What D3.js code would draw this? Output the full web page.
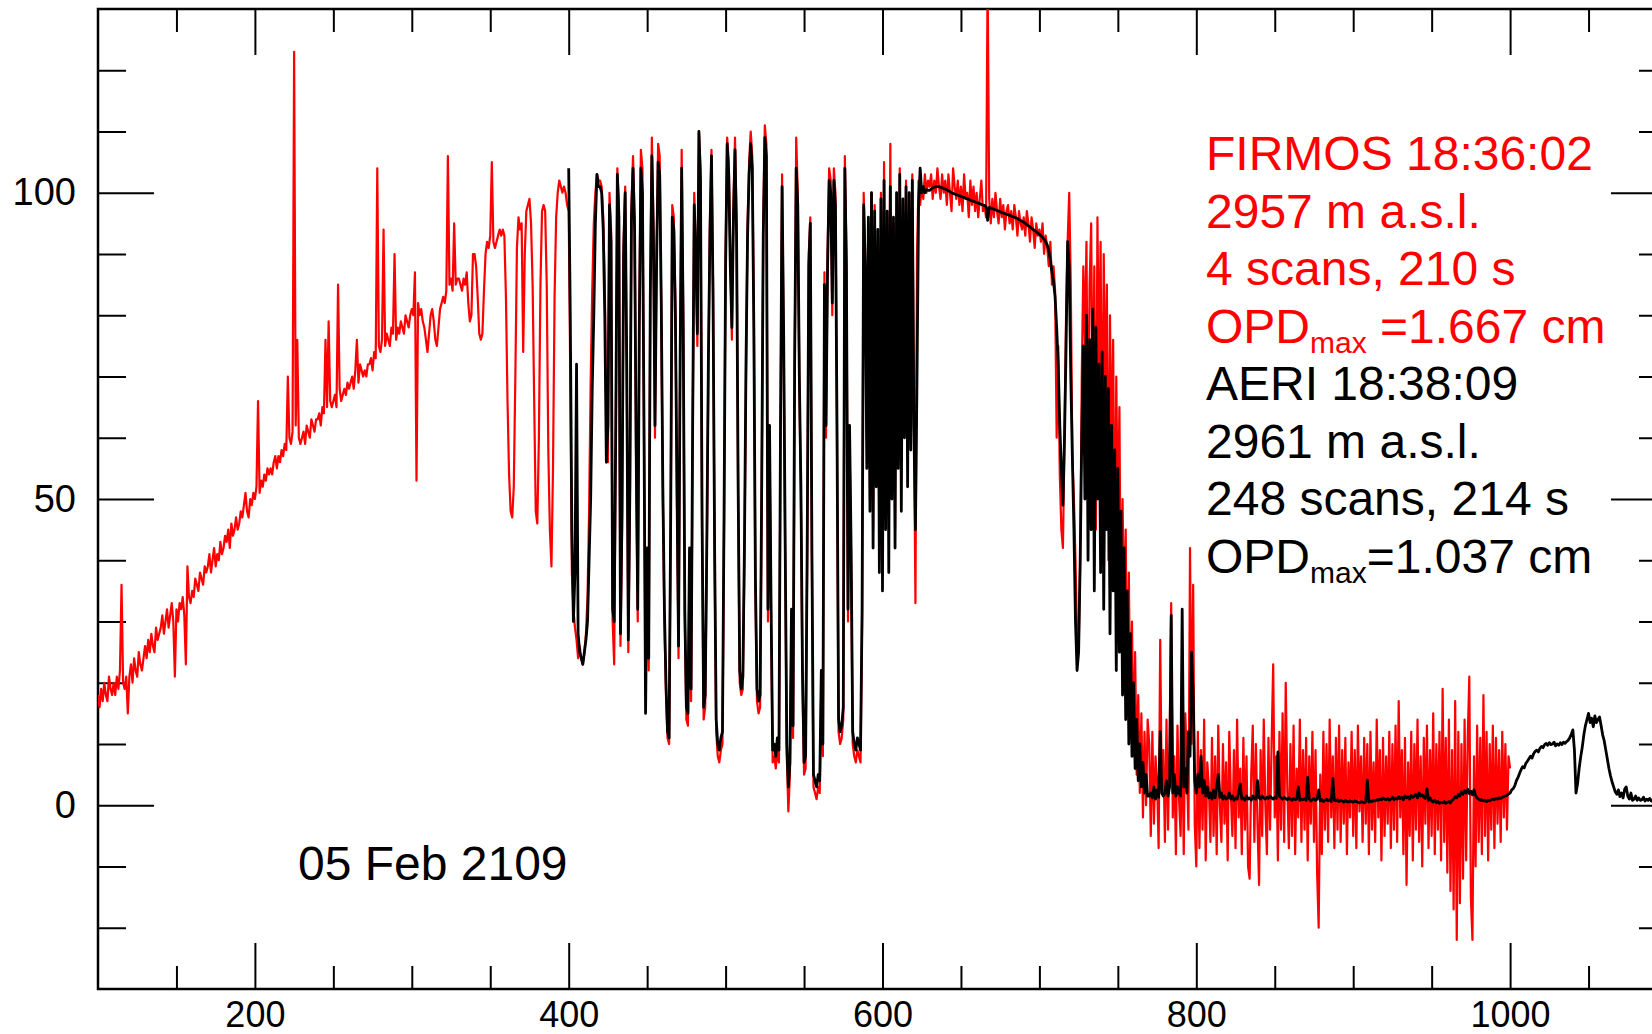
<!DOCTYPE html>
<html>
<head>
<meta charset="utf-8">
<script src="https://cdn.jsdelivr.net/npm/d3@7"></script>
<style>
  html, body { margin: 0; padding: 0; background: #fff; }
  svg { display: block; font-family: "Liberation Sans", Arial, Helvetica, sans-serif; }
</style>
</head>
<body>
<svg id="chart" width="1652" height="1034"></svg>
<script>
// wavenumber grid starts (1 cm-1 sampling)
const firmosStart = 100;
const aeriStart = 400;

// FIRMOS radiance, 100..1000 cm-1
const firmosValues = [
  18,16,19,17,20,18,17,21,19,18,
  20,18,21,19,22,36,20,19,21,15,
  21,23,20,24,22,21,25,23,22,24,
  26,24,27,25,28,26,25,29,27,28,
  29,31,28,30,32,29,31,33,30,21,
  32,30,33,32,34,31,23,39,34,33,
  35,34,37,36,35,38,37,36,39,38,
  39,41,38,40,42,39,41,40,43,41,
  42,44,43,45,42,46,44,45,47,45,
  46,48,47,49,51,48,47,50,49,51,
  50,52,66,51,53,52,54,53,55,54,
  55,54,56,57,55,57,56,58,57,59,
  58,70,60,59,61,123,62,76,60,59,
  60,61,59,62,61,60,63,62,61,63,
  63,64,62,65,64,76,65,79,66,65,
  66,67,65,85,68,66,67,68,67,69,
  68,69,70,68,71,76,69,72,71,70,
  71,70,72,72,73,71,74,73,104,75,
  74,76,94,75,77,76,75,78,77,90,
  76,78,77,79,78,77,80,79,78,80,
  81,80,87,53,82,80,81,79,78,76,
  74,77,80,81,79,76,75,78,81,82,
  83,82,84,106,85,86,84,95,85,86,
  86,85,84,86,85,87,82,79,80,90,
  90,88,83,77,76,77,84,90,92,91,
  93,105,92,91,92,93,94,93,94,93,
  83,66,54,48,47,52,70,91,96,94,
  95,74,90,97,98,99,95,85,66,48,
  46,60,85,97,98,97,85,58,45,39,
  55,83,96,100,102,101,100,101,100,98,
  97,70,38,32,29,27,24,26,24,23,
  25,28,34,48,69,84,95,100,103,102,
  102,101,96,85,62,56,100,94,30,23,
  60,104,98,26,45,92,101,70,25,50,
  98,106,96,55,30,80,107,104,60,18,
  40,22,85,109,95,60,90,108,106,80,
  50,30,18,11,10,45,98,96,82,50,
  24,70,107,80,30,14,13,40,17,60,
  100,92,75,110,104,45,14,16,40,70,
  95,107,85,40,12,8,7,9,10,45,
  90,109,105,90,76,98,109,95,50,20,
  18,19,40,70,95,105,110,106,80,35,
  17,15,16,50,95,111,108,30,60,30,
  7,8,6,9,7,60,103,75,40,8,
  -1,5,30,11,70,109,100,69,50,20,
  5,6,40,90,96,40,3,2,1,3,
  2,20,8,87,60,90,104,102,80,104,
  100,60,12,10,11,14,106,90,30,60,
  40,10,8,7,9,8,7,30,100,90,
  60,95,50,100,45,98,55,92,40,100,
  60,105,50,96,70,108,55,95,45,100,
  65,104,60,98,70,102,58,100,75,103,
  65,33,90,102,98,101,99,103,100,102,
  101,103,99,102,100,104,101,99,103,100,
  102,98,103,100,97,104,101,99,102,98,
  101,97,103,99,100,96,102,98,101,97,
  100,96,99,102,97,98,96,135,99,95,
  99,96,100,97,95,99,96,98,94,97,
  98,95,97,94,98,96,93,97,95,94,
  96,93,97,95,92,96,94,91,95,93,
  94,92,95,90,93,91,88,92,85,88,
  84,60,75,54,45,42,60,80,92,100,
  85,57,50,40,28,25,40,70,88,75,
  92,55,85,95,60,88,45,96,70,92,
  50,90,65,85,40,80,55,76,35,70,
  45,65,25,50,30,45,15,38,12,30,
  8,25,5,18,2,15,-2,12,0,14,
  10,-5,12,-3,8,4,-7,27,2,9,
  -6,14,-4,11,33,-2,8,-8,13,1,
  -5,12,-8,15,6,-4,42,10,36,-3,
  -10,12,-7,9,-4,14,-9,7,3,-6,
  11,-5,8,-8,13,0,-6,10,-3,7,
  -9,12,2,-5,9,-7,14,-2,6,-8,
  11,-4,8,-10,-12,5,13,-6,10,-3,
  -13,9,-5,14,0,-8,11,-4,10,23,
  -2,8,-9,12,-4,15,-6,20,3,-7,
  10,-5,13,-8,6,-2,14,-6,9,-4,
  11,-9,8,-3,12,-6,9,-11,-20,5,
  -8,12,-4,10,-6,14,-2,8,-7,11,
  -4,13,-6,9,-3,11,-8,7,-2,12,
  -5,9,-7,13,-1,8,-6,11,-3,10,
  -8,12,-4,7,-6,14,-2,9,-9,11,
  -5,8,-3,12,-7,10,-4,13,-6,17,
  -2,9,-8,11,-13,7,-5,12,-9,10,
  -4,14,-6,8,-10,11,-3,13,-7,9,
  -5,15,-8,10,-4,12,-9,19,-6,11,
  -11,14,-14,9,-17,17,-22,12,-16,10,
  -12,14,-9,11,21,-15,-22,8,-10,13,
  -6,11,-8,18,-5,12,-9,10,-4,13,
  -7,11,-3,9,-6,12,-2,10,-4,8,
  6
];

// AERI radiance, 400..1100 cm-1
const aeriValues = [
  104,80,45,30,38,72,28,25,24,23,
  25,27,30,40,50,68,80,95,103,101,
  101,100,94,80,56,62,98,92,32,30,
  62,103,96,28,48,90,100,72,27,52,
  96,104,94,58,32,78,104,100,62,15,
  42,24,83,106,93,62,88,105,103,82,
  52,32,20,12,11,47,96,94,80,52,
  26,72,104,78,32,16,15,42,19,62,
  98,90,77,110,102,47,16,18,42,72,
  93,106,83,42,14,10,9,11,12,47,
  88,108,103,88,78,96,107,93,52,22,
  19,21,42,72,93,103,108,104,78,37,
  19,17,18,52,93,109,106,32,62,32,
  9,10,8,11,9,62,101,77,42,10,
  3,7,32,13,72,104,98,70,52,22,
  7,8,42,88,95,42,5,4,3,5,
  4,22,10,85,62,88,102,100,82,102,
  98,62,14,12,13,16,104,88,32,62,
  42,12,10,9,11,10,9,32,98,88,
  55,96,48,100,42,97,52,94,38,99,
  35,102,45,97,38,101,50,96,42,100,
  55,103,48,99,60,101,52,100,58,102,
  62,45,70,98,104,100,101,100,100.5,100.4,
  100.4,100.6,100.8,100.9,101.0,101.0,101.0,100.9,100.8,100.7,
  100.6,100.5,100.3,100.2,100.0,99.9,99.8,99.7,99.6,99.5,
  99.4,99.3,99.2,99.1,99.0,98.9,98.8,98.7,98.6,98.5,
  98.4,98.3,98.2,98.1,98.0,97.9,97.8,95.5,97.6,97.5,
  97.4,97.3,97.2,97.1,97.0,96.9,96.8,96.7,96.6,96.5,
  96.4,96.3,96.2,96.1,96.0,95.9,95.8,95.6,95.5,95.3,
  95.2,95.0,94.8,94.6,94.4,94.2,94.0,93.8,93.6,93.4,
  93.2,93.0,92.7,92.4,92.0,91.5,90.5,89.0,87.0,85.5,
  83,78,72,62,55,49,60,75,92,88,
  70,57,45,30,22,25,40,60,75,50,
  80,40,76,45,81,35,78,50,72,38,
  74,32,70,45,68,28,62,35,58,22,
  55,25,48,18,42,14,35,10,28,8,
  20,6,14,4,10,3,7,2,5,1.5,
  1.5,2,1.2,3,1,2.5,1.3,12,2,1.5,
  2,4,1.5,3,31,2,5,1.5,3,2,
  1.5,32,3,6,2,12,8,25,18,4,
  2,5,3,8,2,4,1.5,3,1.2,2,
  1,2.5,1.2,3,5,1.3,2,1,1.5,1,
  1.2,2,1,1.5,0.8,1.2,1,2,3.5,1,
  1.2,0.8,1.5,1,1.2,0.8,1.5,1.1,1,4,
  1.2,1,1.5,1.2,1,1.3,1.1,1.5,1.2,1,
  1.3,1.1,8.7,1.5,1.2,1,1.3,1.1,0.9,1.2,
  1,0.8,1.1,0.9,1,3,0.8,1,0.9,1.1,
  0.8,4.6,1,0.7,0.9,1.1,0.8,1,2.5,0.7,
  0.9,0.6,0.8,1,0.7,0.9,0.6,4.4,0.8,0.7,
  0.9,0.6,0.8,0.7,0.5,0.8,0.6,0.5,0.7,0.6,
  0.5,0.7,0.6,0.5,0.4,0.6,0.5,0.4,0.6,4.1,
  0.5,0.7,0.6,0.8,0.7,0.9,0.8,1,0.9,1.2,
  1,0.9,1.1,0.8,1,1.3,0.9,1.2,1,1.4,
  1.1,1.3,0.9,1.5,1.2,1.4,1,1.6,1.3,1.5,
  1.8,1.2,2,1.5,1.7,1.3,1.1,2.7,0.8,1.2,
  0.7,0.5,0.8,0.4,0.6,0.3,0.5,0.4,0.6,0.3,
  0.5,0.6,0.4,0.8,1,1.4,1.2,1.8,1.5,2.2,
  1.8,2.4,2,2.6,1.9,2.3,1.7,2.5,1.6,1.2,
  1,0.8,0.9,0.7,0.8,0.6,0.8,0.7,0.9,1,
  0.9,1.1,1,1.2,1.1,1.3,1.4,1.5,1.6,1.8,
  2,2.5,2.7,3.2,4,4.5,5.2,5.8,6.3,6.1,
  6.8,7.2,7.6,8,7.7,8.4,8.8,9,8.7,9.3,
  9.6,9.4,9.9,10.1,9.8,10.2,9.9,10,10.3,9.7,
  10,9.8,10.2,9.9,10.3,10.1,10.4,10.6,11,11.6,
  12.3,9,2,3.5,6,7.9,9.5,11.5,13,14,
  15,13.5,14.2,12.8,14.6,13.5,14,14.4,13,11.5,
  10.5,9,7.5,6,4.8,3.8,3,2.2,1.8,2.5,
  1.4,2,1.2,2.6,3,1.5,1,2,0.8,1,
  1.5,0.8,1.2,0.8,0.9,1.3,0.7,1,0.8,1.1,
  0.7,0.9,0.6,1,0.8,0.7,0.9,0.6,0.8,0.7,
  0.7
];

const xMajorTicks = [200, 400, 600, 800, 1000];
const xMinorTicks = [150, 250, 300, 350, 450, 500, 550, 650, 700, 750, 850, 900, 950, 1050];
const yMajorTicks = [0, 50, 100];
const yMinorTicks = [-20, -10, 10, 20, 30, 40, 60, 70, 80, 90, 110, 120];

const firmosLines = ['FIRMOS 18:36:02', '2957 m a.s.l.', '4 scans, 210 s'];
const firmosOpd = ['OPD', 'max', ' =1.667 cm'];
const aeriLines = ['AERI 18:38:09', '2961 m a.s.l.', '248 scans, 214 s'];
const aeriOpd = ['OPD', 'max', '=1.037 cm'];
const dateLabel = '05 Feb 2109';

class spectrumPlot {
  constructor() {
    this.svg = d3.select('#chart');
    this.left = 98;
    this.right = 1667;
    this.top = 9;
    this.bottom = 989;
  }

  buildAxes() {
    this.xScale = d3.scaleLinear().domain([100, 1100]).range([this.left, this.right]);
    this.yScale = d3.scaleLinear().domain([-30, 130]).range([this.bottom, this.top]);

    var axes = this.svg.append('g').attr('class', 'axes');

    // ticks all point into the plot
    var addAxis = (axisFn, scale, ticks, size, pos, fontSize, pad) => {
      var ax = axisFn(scale).tickValues(ticks).tickSize(-size).tickPadding(pad || 0);
      ax.tickFormat(fontSize ? d3.format('d') : '');
      var g = axes.append('g').attr('transform', pos).call(ax);
      g.select('.domain').remove();
      g.selectAll('line').attr('stroke', '#000').attr('stroke-width', 2);
      g.selectAll('text').attr('font-size', fontSize).attr('fill', '#000')
        .attr('font-family', '"Liberation Sans", Arial, sans-serif');
      return g;
    };

    addAxis(d3.axisBottom, this.xScale, xMajorTicks, 46, `translate(0,${this.bottom})`, 36, 12);
    addAxis(d3.axisBottom, this.xScale, xMinorTicks, 23, `translate(0,${this.bottom})`);
    addAxis(d3.axisTop, this.xScale, xMajorTicks, 46, `translate(0,${this.top})`);
    addAxis(d3.axisTop, this.xScale, xMinorTicks, 23, `translate(0,${this.top})`);
    addAxis(d3.axisLeft, this.yScale, yMajorTicks, 56, `translate(${this.left},0)`, 38, 22);
    addAxis(d3.axisLeft, this.yScale, yMinorTicks, 28, `translate(${this.left},0)`);
    addAxis(d3.axisRight, this.yScale, yMajorTicks, 56, `translate(${this.right},0)`);
    addAxis(d3.axisRight, this.yScale, yMinorTicks, 28, `translate(${this.right},0)`);

    axes.append('rect')
      .attr('x', this.left).attr('y', this.top)
      .attr('width', this.right - this.left).attr('height', this.bottom - this.top)
      .attr('fill', 'none').attr('stroke', '#000').attr('stroke-width', 2.5);
  }

  drawSpectra() {
    this.svg.append('clipPath').attr('id', 'plotclip')
      .append('rect')
      .attr('x', this.left).attr('y', this.top)
      .attr('width', this.right - this.left).attr('height', this.bottom - this.top);

    var g = this.svg.append('g').attr('clip-path', 'url(#plotclip)');

    var series = [
      { start: firmosStart, values: firmosValues, color: '#ff0000', width: 2.2 },
      { start: aeriStart, values: aeriValues, color: '#000000', width: 2.8 }
    ];

    series.forEach(s => {
      var line = d3.line()
        .x((d, i) => this.xScale(s.start + i))
        .y(d => this.yScale(d));
      g.append('path')
        .datum(s.values)
        .attr('d', line)
        .attr('fill', 'none')
        .attr('stroke', s.color)
        .attr('stroke-width', s.width)
        .attr('stroke-linejoin', 'round');
    });
  }

  drawLabels() {
    var x0 = 1206, y0 = 170, dy = 57.5;
    var txt = this.svg.append('g').attr('font-size', 48);

    var rows = [];
    firmosLines.forEach(t => rows.push({ text: t, color: '#ff0000' }));
    rows.push({ opd: firmosOpd, color: '#ff0000' });
    aeriLines.forEach(t => rows.push({ text: t, color: '#000' }));
    rows.push({ opd: aeriOpd, color: '#000' });

    rows.forEach((r, i) => {
      var t = txt.append('text')
        .attr('x', x0)
        .attr('y', y0 + i * dy)
        .attr('fill', r.color);
      if (r.text) {
        t.text(r.text);
      } else {
        t.append('tspan').text(r.opd[0]);
        t.append('tspan').attr('font-size', 30).attr('dy', 10).text(r.opd[1]);
        t.append('tspan').attr('dy', -10).style('white-space', 'pre').text(r.opd[2]);
      }
    });

    this.svg.append('text')
      .attr('x', 298).attr('y', 880)
      .attr('font-size', 48).attr('fill', '#000')
      .text(dateLabel);
  }
}

var plot = new spectrumPlot();
plot.buildAxes();
plot.drawSpectra();
plot.drawLabels();
</script>
</body>
</html>
